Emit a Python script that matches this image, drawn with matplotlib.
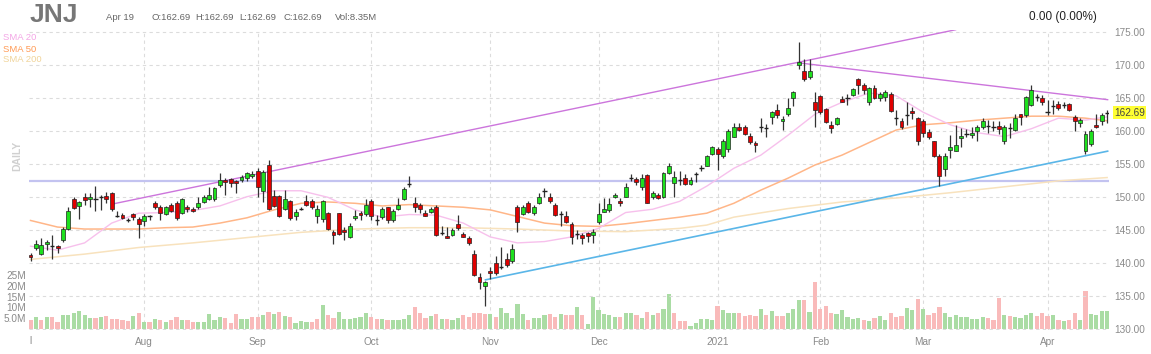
import numpy as np
import pandas as pd
import matplotlib
matplotlib.use('Agg')
import matplotlib.pyplot as plt

plt.rcParams['font.family'] = ['Liberation Sans', 'DejaVu Sans']

# Trading days shown (Jul 2 2020 - Apr 19 2021)
holidays = ['2020-07-03', '2020-09-07', '2020-11-26', '2020-12-25',
            '2021-01-01', '2021-01-18', '2021-02-15', '2021-04-02']
dates = pd.bdate_range('2020-07-02', '2021-04-19')
dates = dates[~dates.isin(pd.to_datetime(holidays))]

# OHLC
opens = [141.2, 142.2, 141.3, 142.9, 142.5, 142.6, 143.4, 145.1, 149.7, 148.6,
         150.0, 149.6, 149.7, 150.0, 150.1, 150.5, 147.1, 147.3, 146.4, 147.4,
         146.6, 146.3, 147.0, 149.1, 148.4, 147.4, 148.7, 149.1, 147.6, 148.5,
         148.2, 148.4, 149.2, 149.6, 149.6, 151.8, 152.6, 152.7, 152.4, 152.5,
         152.8, 153.1, 153.9, 150.8, 154.8, 150.1, 150.1, 148.1, 149.3, 147.1,
         148.2, 149.4, 149.4, 147.1, 146.6, 147.6, 144.6, 147.5, 145.0, 143.9,
         146.7, 147.6, 147.4, 149.3, 146.4, 146.9, 148.4, 146.4, 148.2, 149.6,
         151.9, 149.0, 148.8, 147.6, 147.7, 148.5, 144.5, 144.1, 144.2, 145.9,
         144.4, 143.7, 141.3, 137.9, 136.5, 138.8, 139.9, 139.4, 140.5, 140.2,
         148.4, 147.4, 149.1, 147.5, 149.1, 150.9, 150.0, 148.8, 147.4, 147.1,
         145.9, 144.4, 144.2, 144.5, 144.2, 146.2, 147.7, 148.0, 149.9, 149.4,
         150.0, 152.9, 152.7, 151.4, 153.3, 149.9, 150.2, 149.9, 153.6, 152.1,
         152.6, 152.8, 151.9, 153.4, 154.3, 154.7, 156.5, 157.2, 156.2, 157.2,
         159.1, 160.5, 160.5, 159.2, 158.2, 160.5, 160.4, 162.1, 163.1, 161.4,
         162.5, 165.0, 169.9, 169.1, 168.1, 164.3, 165.3, 163.3, 160.9, 161.0,
         164.8, 165.0, 165.4, 167.9, 167.0, 164.4, 166.5, 164.9, 165.1, 165.6,
         161.9, 161.4, 162.4, 163.0, 161.9, 161.4, 159.8, 158.4, 156.1, 154.2,
         157.1, 157.0, 158.9, 159.5, 159.4, 159.9, 160.5, 160.7, 160.5, 160.7,
         158.4, 160.4, 160.1, 162.5, 162.4, 163.9, 165.1, 165.0, 162.9, 163.7,
         164.1, 163.9, 164.1, 162.1, 161.1, 156.9, 158.0, 160.9, 161.5, 162.69]
highs = [141.5, 143.5, 143.8, 143.4, 144.2, 142.7, 145.4, 148.5, 149.9, 149.3,
         150.5, 150.6, 151.6, 150.3, 150.7, 150.7, 147.9, 147.5, 146.7, 147.6,
         146.9, 147.4, 147.2, 149.3, 148.8, 148.6, 149.0, 149.3, 149.8, 148.8,
         148.5, 150.0, 150.3, 151.5, 151.5, 153.6, 152.8, 152.8, 152.6, 153.3,
         153.8, 153.9, 154.3, 154.1, 155.5, 151.0, 150.3, 151.0, 149.5, 148.1,
         148.5, 150.3, 149.6, 148.7, 149.5, 147.7, 145.0, 147.6, 145.4, 146.0,
         148.0, 147.9, 149.6, 149.6, 147.2, 148.5, 148.5, 148.2, 149.8, 151.5,
         153.1, 150.0, 149.0, 148.0, 148.5, 148.8, 145.6, 145.4, 145.2, 147.2,
         144.7, 144.1, 141.9, 138.4, 137.3, 139.4, 141.0, 142.4, 141.5, 142.9,
         148.8, 148.8, 149.3, 148.8, 150.5, 151.3, 150.5, 149.1, 147.8, 147.8,
         146.1, 144.9, 144.5, 144.7, 145.1, 149.1, 149.8, 149.8, 150.5, 149.8,
         152.0, 153.5, 153.0, 153.5, 153.5, 150.8, 150.5, 153.8, 155.1, 153.9,
         153.9, 153.5, 153.0, 153.8, 154.8, 156.3, 157.7, 157.6, 158.7, 160.2,
         161.1, 161.1, 160.9, 159.6, 158.5, 161.9, 161.0, 163.0, 164.1, 162.3,
         165.0, 166.0, 173.5, 170.8, 170.8, 165.9, 165.4, 163.5, 161.5, 162.1,
         165.3, 165.5, 166.5, 168.0, 167.3, 166.6, 167.0, 165.9, 166.1, 165.8,
         163.1, 161.9, 164.3, 163.6, 162.1, 161.8, 160.3, 158.5, 156.4, 156.6,
         159.4, 160.9, 160.4, 160.2, 160.6, 160.9, 161.9, 161.6, 161.4, 161.5,
         160.9, 161.1, 162.6, 162.6, 165.2, 167.0, 165.6, 165.4, 164.7, 164.7,
         164.5, 164.4, 164.2, 162.4, 161.9, 160.0, 160.2, 162.6, 162.7, 163.2]
lows = [140.3, 141.9, 141.2, 141.9, 140.5, 141.4, 143.2, 144.9, 148.2, 146.6,
        148.7, 148.5, 147.9, 148.0, 149.0, 147.9, 146.9, 146.6, 146.2, 146.5,
        143.8, 145.6, 146.5, 148.2, 146.5, 147.2, 147.7, 146.4, 147.4, 147.7,
        147.7, 148.2, 149.0, 149.5, 149.4, 151.5, 150.3, 151.5, 150.6, 152.3,
        152.4, 152.8, 150.0, 149.2, 148.0, 148.5, 146.9, 148.0, 146.5, 146.5,
        148.0, 148.6, 148.2, 146.0, 146.2, 144.9, 142.8, 144.2, 143.4, 143.7,
        146.5, 146.5, 147.1, 146.5, 145.7, 146.6, 146.0, 146.2, 148.0, 149.5,
        151.4, 147.7, 147.5, 147.0, 147.5, 144.0, 144.2, 143.8, 144.1, 145.0,
        143.9, 142.7, 138.0, 136.0, 133.4, 137.6, 138.1, 139.1, 139.4, 140.0,
        144.7, 147.2, 147.5, 147.2, 148.9, 150.0, 149.1, 147.1, 145.6, 146.0,
        142.9, 143.6, 142.8, 143.2, 143.0, 145.9, 147.7, 147.7, 149.8, 148.6,
        149.9, 152.4, 151.8, 151.0, 149.0, 149.6, 149.6, 149.8, 153.4, 150.0,
        151.8, 151.8, 151.8, 152.3, 153.9, 154.6, 156.3, 154.1, 155.8, 156.8,
        159.0, 160.0, 159.3, 158.0, 156.8, 159.8, 159.1, 161.0, 161.9, 160.1,
        162.3, 163.8, 169.3, 167.5, 167.8, 160.5, 162.5, 161.1, 159.6, 160.9,
        164.3, 163.9, 165.3, 165.6, 165.5, 163.9, 164.8, 164.5, 164.5, 162.9,
        160.9, 160.3, 160.8, 161.8, 157.9, 159.1, 158.8, 156.0, 151.6, 153.2,
        155.9, 156.9, 157.6, 159.1, 158.9, 158.5, 160.2, 159.6, 159.9, 159.5,
        158.0, 158.9, 159.9, 160.9, 162.1, 163.7, 164.5, 163.9, 162.4, 162.6,
        163.2, 163.4, 163.0, 159.9, 160.5, 156.5, 157.7, 160.4, 160.9, 161.1]
closes = [140.8, 142.8, 142.7, 143.2, 142.5, 142.3, 145.1, 147.9, 148.3, 149.2,
          149.5, 150.0, 149.7, 150.0, 149.6, 148.1, 147.1, 146.7, 146.4, 146.9,
          145.8, 147.1, 147.0, 148.5, 147.5, 148.5, 147.9, 146.7, 149.6, 148.1,
          147.9, 149.0, 149.9, 150.3, 151.3, 152.6, 152.3, 152.1, 152.0, 153.0,
          153.6, 153.5, 151.5, 153.8, 148.2, 148.6, 147.0, 149.6, 146.7, 147.7,
          148.2, 148.7, 148.4, 148.1, 149.3, 145.1, 144.2, 144.4, 144.6, 145.6,
          147.1, 147.2, 148.7, 147.0, 146.4, 148.1, 146.4, 147.9, 148.8, 151.1,
          151.9, 148.4, 148.1, 147.1, 148.2, 144.2, 144.5, 143.8, 145.0, 145.2,
          143.9, 143.0, 138.1, 137.1, 137.0, 138.5, 138.4, 139.4, 139.7, 142.0,
          146.1, 148.4, 147.7, 148.4, 150.0, 150.9, 149.4, 147.2, 147.4, 146.2,
          143.9, 144.4, 143.7, 144.0, 144.6, 147.4, 148.1, 148.9, 150.3, 149.1,
          151.5, 152.9, 152.3, 152.9, 149.1, 150.5, 149.8, 153.6, 154.6, 153.0,
          152.6, 151.9, 152.5, 153.4, 154.3, 156.1, 157.5, 156.5, 158.5, 160.0,
          160.5, 160.1, 159.5, 158.3, 157.9, 160.5, 160.4, 162.8, 162.4, 161.8,
          163.5, 165.9, 170.4, 167.9, 169.1, 163.1, 162.8, 161.3, 160.4, 161.9,
          164.4, 165.0, 166.3, 167.0, 166.1, 166.4, 165.0, 165.6, 165.8, 163.0,
          161.9, 160.5, 162.4, 162.7, 158.5, 159.6, 159.1, 156.2, 153.2, 156.2,
          157.5, 157.9, 159.2, 159.5, 159.7, 160.5, 161.4, 160.7, 160.5, 160.2,
          160.6, 160.4, 161.9, 162.1, 165.1, 166.1, 165.1, 164.4, 162.9, 163.7,
          163.5, 163.9, 163.1, 161.4, 161.6, 159.5, 160.0, 160.6, 162.4, 162.69]

# Volume in millions
volume = [4.2, 5.5, 4.2, 5.5, 5.5, 3.4, 6.4, 6.7, 7.6, 8.4,
          6.7, 5.0, 5.0, 5.5, 6.1, 4.8, 4.8, 4.2, 3.75, 6.1,
          7.6, 3.4, 3.4, 4.5, 4.2, 3.1, 4.2, 5.5, 4.2, 4.2,
          3.4, 3.4, 3.4, 7.0, 4.2, 5.8, 5.0, 3.0, 7.0, 4.6,
          4.6, 5.4, 5.4, 6.5, 7.75, 7.0, 7.75, 6.2, 5.4, 2.7,
          3.9, 3.1, 3.45, 4.6, 11.2, 6.5, 5.0, 7.75, 4.6, 4.6,
          5.3, 5.8, 7.3, 5.4, 4.6, 4.6, 4.2, 4.0, 4.0, 4.6,
          6.5, 10.4, 7.3, 5.0, 6.1, 6.8, 4.6, 4.6, 4.2, 5.0,
          6.5, 5.8, 7.6, 7.3, 6.8, 6.8, 5.8, 9.6, 7.3, 5.0,
          11.6, 6.8, 4.2, 5.0, 5.0, 6.5, 6.8, 5.8, 6.8, 6.5,
          6.5, 10.1, 6.5, 2.4, 15.0, 8.8, 7.0, 6.5, 5.75, 5.75,
          7.6, 7.6, 6.5, 5.0, 8.1, 6.5, 7.6, 9.2, 16.25, 7.6,
          3.9, 3.9, 1.4, 3.0, 4.5, 4.5, 4.2, 10.7, 8.8, 7.3,
          7.3, 7.6, 6.1, 6.5, 6.1, 9.2, 6.5, 8.4, 6.1, 6.1,
          7.3, 9.2, 13.5, 13.5, 8.1, 21.7, 9.2, 10.7, 7.6, 7.0,
          8.8, 5.5, 4.5, 5.0, 4.2, 3.75, 5.0, 6.1, 4.2, 7.3,
          5.5, 6.1, 9.6, 8.8, 13.8, 9.2, 6.5, 7.6, 10.1, 7.3,
          5.75, 6.5, 5.75, 5.45, 4.5, 4.5, 5.45, 5.0, 4.2, 14.2,
          6.5, 6.1, 5.45, 5.0, 6.5, 7.6, 6.1, 7.6, 6.1, 6.5,
          4.2, 3.9, 4.2, 7.6, 4.2, 17.6, 7.0, 6.5, 8.4, 8.35]

# Moving averages (bar index, value)
sma20_idx = [0, 5, 10, 15, 20, 25, 30, 35, 40, 45, 50, 55, 60, 65, 70, 75, 80, 85, 90, 95,
             100, 105, 110, 115, 120, 125, 130, 135, 140, 145, 150, 155, 160, 165, 170, 175,
             180, 185, 190, 195, 199]
sma20 = [142.5, 141.9, 143.0, 146.0, 147.5, 147.6, 147.9, 148.6, 150.0, 150.9,
         150.9, 149.9, 148.0, 146.9, 147.3, 147.2, 146.0, 143.9, 143.0, 143.2,
         143.9, 145.2, 147.6, 148.1, 149.3, 151.6, 154.3, 156.3, 159.3, 162.5,
         164.3, 165.7, 165.3, 162.8, 160.9, 159.7, 159.1, 160.3, 161.9, 161.6, 162.1]
sma50 = [146.4, 145.4, 145.1, 145.1, 145.1, 145.3, 145.4, 146.0, 146.8, 148.0,
         149.0, 149.2, 149.0, 148.6, 148.8, 148.6, 148.4, 148.0, 147.0, 146.0,
         145.6, 145.5, 145.9, 146.4, 146.9, 147.5, 149.0, 151.0, 152.8, 154.8,
         156.3, 158.2, 160.1, 160.9, 161.2, 161.6, 161.9, 162.2, 162.2, 161.9, 161.5]
sma200_idx = [0, 10, 20, 30, 40, 50, 60, 70, 80, 90, 100, 110, 120, 125, 130,
              140, 150, 160, 170, 180, 190, 199]
sma200 = [140.5, 141.3, 142.3, 143.0, 143.8, 144.6, 145.1, 145.3, 145.3, 145.1, 144.8,
          144.7, 145.2, 145.7, 146.9, 148.2, 149.2, 149.8, 150.6, 151.5, 152.4, 152.9]

# Drawn trendlines (bar index, price)
purple_up = ([15.2, 171.0], [148.9, 175.3])
purple_down = ([141.8, 199.1], [170.3, 164.7])
blue_up = ([84.1, 199.1], [137.4, 156.9])
hline_level = 152.45

O = np.array(opens)
H = np.array(highs)
L = np.array(lows)
C = np.array(closes)
V = np.array(volume)
x = np.arange(len(C))

W, Hh = 1151, 354
fig = plt.figure(figsize=(W / 100, Hh / 100), dpi=100)
ax_v = fig.add_axes([29 / W, 1 - 330 / Hh, 1080 / W, 300 / Hh])
ax = ax_v.twinx()

grid_kw = dict(color='#dcdcdc', linestyle=(0, (3, 3)), linewidth=0.8)

# volume
prev = np.concatenate([[O[0]], C[:-1]])
vcol = np.where(C >= prev, '#aadca4', '#f9baba')
ax_v.bar(x, V, width=0.78, color=vcol, zorder=2)
ax_v.set_ylim(-0.42, 138.5)
ax_v.set_yticks([5, 10, 15, 20, 25])
ax_v.set_yticklabels(['5.0M', '10M', '15M', '20M', '25M'])

# month gridlines / labels
month_starts = [i for i in range(1, len(dates)) if dates[i].month != dates[i - 1].month]
month_lbls = ['2021' if dates[i].month == 1 else dates[i].strftime('%b') for i in month_starts]
ax_v.set_xticks(month_starts)
ax_v.set_xticklabels(month_lbls)
ax_v.xaxis.grid(True, **grid_kw)
ax_v.set_axisbelow(True)
ax_v.set_xlim(-0.28, 199.35)

# price
ax.set_ylim(129.8, 175.26)
ax.set_yticks(np.arange(130, 176, 5))
ax.set_yticklabels(['%.2f' % v for v in np.arange(130, 176, 5)])
ax.yaxis.grid(True, **grid_kw)

ax.plot([-0.3, 199.1], [hline_level, hline_level], color='#c3c3f0', lw=1.6, zorder=2)
ax.plot(sma200_idx, sma200, color='#f8e2bd', lw=1.1, zorder=3)
ax.plot(sma20_idx, sma50, color='#ffb688', lw=1.1, zorder=3)
ax.plot(sma20_idx, sma20, color='#f7c0ec', lw=1.0, zorder=3)
ax.plot(*purple_up, color='#cc75dc', lw=1.0, zorder=4)
ax.plot(*purple_down, color='#cc75dc', lw=1.0, zorder=4)
ax.plot(*blue_up, color='#5ab6e8', lw=1.2, zorder=4)

# candles
ax.vlines(x, L, H, color='#333333', lw=0.9, zorder=5)
doji = np.abs(C - O) < 0.05
up = (C > O) & ~doji
dn = (C < O) & ~doji
ax.bar(x[up], (C - O)[up], bottom=O[up], width=0.72, color='#1ee01e',
       edgecolor='#222222', linewidth=0.5, zorder=6)
ax.bar(x[dn], (O - C)[dn], bottom=C[dn], width=0.72, color='#e00000',
       edgecolor='#222222', linewidth=0.5, zorder=6)
ax.hlines(C[doji], x[doji] - 0.4, x[doji] + 0.4, color='#222222', lw=1.0, zorder=6)

for a in (ax, ax_v):
    for s in a.spines.values():
        s.set_visible(False)
    a.tick_params(length=0, labelsize=7.2, labelcolor='#8a8a8a')
ax_v.tick_params(axis='y', pad=2)
ax_v.tick_params(axis='x', pad=5)
ax.tick_params(axis='y', pad=4)

# last price marker
ax.annotate('%.2f' % C[-1], xy=(1, C[-1]), xycoords=('axes fraction', 'data'),
            xytext=(5, 0), textcoords='offset pixels', ha='left', va='center',
            fontsize=7.2, color='#444444',
            bbox=dict(boxstyle='square,pad=0.15', fc='#ffff33', ec='none'))

# header
def ftext(px, py, s, **kw):
    fig.text(px / W, 1 - py / Hh, s, **kw)

ftext(30, 15, 'JNJ', fontsize=19, fontweight='bold', color='#777777', va='center')
ftext(106, 18, 'Apr 19', fontsize=6.8, color='#666666', va='center')
ftext(152, 18, 'O:162.69', fontsize=6.8, color='#666666', va='center')
ftext(195, 18, 'H:162.69', fontsize=6.8, color='#666666', va='center')
ftext(239, 18, 'L:162.69', fontsize=6.8, color='#666666', va='center')
ftext(283, 18, 'C:162.69', fontsize=6.8, color='#666666', va='center')
ftext(335, 18, 'Vol:8.35M', fontsize=6.8, color='#666666', va='center')
ftext(1097, 17, '0.00 (0.00%)', fontsize=8.5, color='#222222', va='center', ha='right')

ftext(3, 38, 'SMA 20', fontsize=6.8, color='#f4a6e6', va='center')
ftext(3, 49, 'SMA 50', fontsize=6.8, color='#ff9a55', va='center')
ftext(3, 60, 'SMA 200', fontsize=6.8, color='#f0d49a', va='center')
ftext(17, 156, 'DAILY', fontsize=7.5, fontweight='bold', color='#d0d0d0',
      rotation=90, ha='center', va='center')
ftext(31, 341, 'l', fontsize=7.2, color='#8a8a8a', ha='center', va='center')

fig.savefig('out.png', dpi=100)
